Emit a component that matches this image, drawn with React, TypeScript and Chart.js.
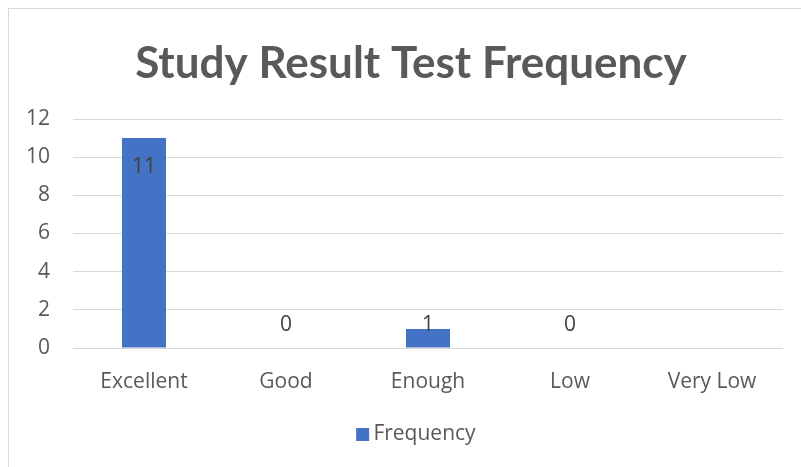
import React, { useEffect, useRef } from "react";
import { Chart, registerables } from "chart.js";

Chart.register(...registerables);

const categories: string[] = ["Excellent", "Good", "Enough", "Low", "Very Low"];
const frequency: (number | null)[] = [11, 0, 1, 0, null];
const yTicks: number[] = [0, 2, 4, 6, 8, 10, 12];
const seriesName = "Frequency";
const chartTitle = "Study Result Test Frequency";

const BAR_COLOR = "#4472C4";
const TEXT_COLOR = "#595959";
const LABEL_COLOR = "#404040";
const GRID_COLOR = "#d9d9d9";
const BASE_FONT = "'Open Sans', sans-serif";
const FONT_SIZE = 21;

const dataLabelPlugin = {
  id: "dataLabels",
  afterDatasetsDraw(chart: any) {
    const ctx = chart.ctx;
    const yScale = chart.scales.y;
    const meta = chart.getDatasetMeta(0);
    const values = chart.data.datasets[0].data;
    ctx.save();
    ctx.font = `${FONT_SIZE}px ${BASE_FONT}`;
    ctx.fillStyle = LABEL_COLOR;
    ctx.textAlign = "center";
    ctx.textBaseline = "alphabetic";
    meta.data.forEach((bar: any, i: number) => {
      const v = values[i];
      if (v === null || v === undefined) return;
      let y: number;
      if (v >= 5) {
        y = bar.y + 35;
      } else {
        y = yScale.getPixelForValue(Math.max(v, 1)) + 2;
      }
      ctx.fillText(String(v), bar.x, y);
    });
    ctx.restore();
  },
};

// widen the y-axis label clip area and nudge the legend to its place
const layoutTweakPlugin = {
  id: "layoutTweak",
  afterLayout(chart: any) {
    const y = chart.scales.y;
    if (y) y.left = 0;
    const lg = chart.legend;
    if (lg) {
      lg.left += 8;
      lg.right += 8;
    }
  },
};

export default function App() {
  const canvasRef = useRef<HTMLCanvasElement | null>(null);

  useEffect(() => {
    const canvas = canvasRef.current;
    if (!canvas) return;
    const chart = new Chart(canvas, {
      type: "bar",
      data: {
        labels: categories,
        datasets: [
          {
            label: seriesName,
            data: frequency,
            backgroundColor: BAR_COLOR,
            borderWidth: 0,
            categoryPercentage: 1,
            barPercentage: 0.31,
          },
        ],
      },
      options: {
        animation: false,
        responsive: false,
        maintainAspectRatio: false,
        layout: { padding: { left: 30, right: 18, top: 0, bottom: 12 } },
        plugins: {
          title: {
            display: true,
            text: chartTitle,
            color: TEXT_COLOR,
            font: { family: "Lato, sans-serif", weight: "bold", size: 44 },
            padding: { top: 28, bottom: 29.2 },
          },
          legend: {
            display: true,
            position: "bottom",
            labels: {
              color: TEXT_COLOR,
              font: { family: BASE_FONT, size: FONT_SIZE },
              usePointStyle: true,
              pointStyle: "rect",
              boxWidth: 0.5,
              boxHeight: 13,
              padding: 10,
            },
          },
          tooltip: { enabled: false },
        },
        scales: {
          x: {
            grid: { display: false },
            border: { display: false },
            ticks: {
              color: TEXT_COLOR,
              font: { family: BASE_FONT, size: FONT_SIZE },
              padding: 13,
              maxRotation: 0,
            },
            afterFit: (scale: any) => {
              scale.height = 66;
            },
          },
          y: {
            min: 0,
            max: 12,
            grid: { color: GRID_COLOR, lineWidth: 1, drawTicks: false },
            border: { display: false },
            afterBuildTicks: (scale: any) => {
              scale.ticks = yTicks.map((v) => ({ value: v }));
            },
            ticks: {
              color: TEXT_COLOR,
              font: { family: BASE_FONT, size: FONT_SIZE },
              padding: 23,
            },
            afterFit: (scale: any) => {
              scale.width = 34;
            },
          },
        },
      },
      plugins: [dataLabelPlugin, layoutTweakPlugin],
    });
    return () => chart.destroy();
  }, []);

  return (
    <div
      style={{
        position: "fixed",
        left: 8,
        top: 8,
        width: 793,
        height: 459,
        borderTop: "1px solid #d9d9d9",
        borderLeft: "1px solid #d9d9d9",
        background: "#ffffff",
        boxSizing: "border-box",
        overflow: "hidden",
      }}
    >
      <canvas ref={canvasRef} width={792} height={458} style={{ display: "block", width: 792, height: 458 }} />
    </div>
  );
}
